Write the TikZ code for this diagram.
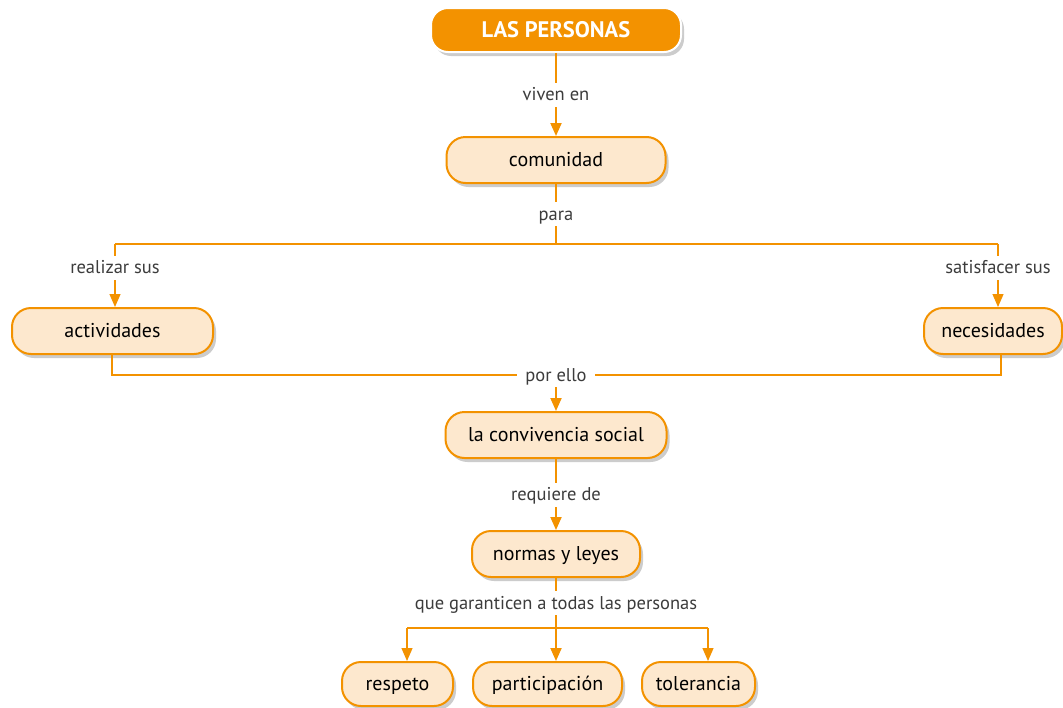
\documentclass[tikz,border=0pt]{standalone}
\usepackage{fontspec}
\setmainfont{PT Sans}
\usetikzlibrary{arrows.meta,shadows}
\definecolor{org}{HTML}{F39200}
\definecolor{peach}{HTML}{FDE8CE}
\definecolor{lbl}{HTML}{3C3C3C}
\tikzset{
  box/.style={rounded corners=19pt, draw=org, line width=2pt, fill=peach, minimum height=46pt,
    inner sep=0pt, text height=15pt, text depth=2pt, font=\fontsize{20}{22}\selectfont, text=black,
    drop shadow={opacity=0.4, shadow xshift=3pt, shadow yshift=-4pt}},
  topbox/.style={rounded corners=17pt, draw=white, line width=2pt, fill=org, minimum height=44pt,
    inner sep=0pt, text height=16pt, text depth=1pt, font=\fontsize{22.5}{24}\selectfont\bfseries, text=white,
    drop shadow={opacity=0.4, shadow xshift=3pt, shadow yshift=-4pt}},
  conn/.style={draw=org, line width=1.2pt},
  thick conn/.style={draw=org, line width=2pt},
  arr/.style={-{Triangle[width=11pt,length=13pt]}},
  lab/.style={fill=white, text=lbl, font=\fontsize{18.5}{20}\selectfont, inner sep=4pt,
    text height=14pt, text depth=2pt}
}
\begin{document}
\begin{tikzpicture}[x=1pt,y=-1pt]
\fill[white] (0,0) rectangle (1063,707);
\useasboundingbox (0,0) rectangle (1063,707);

\node[topbox, minimum width=250pt] (p) at (556,30) {LAS PERSONAS};
\node[box, minimum width=219pt] (c) at (556,160) {comunidad};
\node[box, minimum width=201pt] (a) at (112.5,331) {actividades};
\node[box, minimum width=138pt] (n) at (993,331) {necesidades};
\node[box, minimum width=221pt] (cs) at (556,435) {la convivencia social};
\node[box, minimum width=168pt] (nl) at (556,554) {normas y leyes};
\node[box, minimum width=111pt, minimum height=44pt] (r) at (397.5,684) {respeto};
\node[box, minimum width=149pt, minimum height=44pt] (pa) at (547.5,684) {participación};
\node[box, minimum width=113pt, minimum height=44pt] (t) at (698.5,684) {tolerancia};

% coordinates
\coordinate (bm) at (556,244);
\coordinate (b1) at (115,244);
\coordinate (b2) at (998,244);
\coordinate (j1) at (112,375);
\coordinate (j2) at (1001,375);
\coordinate (jm) at (556,375);
\coordinate (k1) at (407,628);
\coordinate (k2) at (708,628);
\coordinate (km) at (556,628);

\draw[thick conn, arr] (p) -- node[lab]{viven en} (c);
\draw[thick conn] (c.south) -- node[lab, pos=0.5]{para} (bm);
\draw[conn] (b1) -- (b2);
\draw[conn, arr] (b1) -- node[lab, pos=0.38]{realizar sus} (b1 |- a.north);
\draw[conn, arr] (b2) -- node[lab, pos=0.38]{satisfacer sus} (b2 |- n.north);

\draw[conn] (a.south -| j1) -- (j1) -- (j2) -- (j2 |- n.south);
\node[lab, inner xsep=8pt] (pe) at (jm) {por ello};
\draw[thick conn, arr] (pe.south) -- (cs.north);

\draw[thick conn, arr] (cs) -- node[lab]{requiere de} (nl);
\draw[thick conn] (nl.south) -- node[lab]{que garanticen a todas las personas} (km);
\draw[conn] (k1) -- (k2);
\draw[conn, arr] (k1) -- (k1 |- r.north);
\draw[thick conn, arr] (km) -- (km |- pa.north);
\draw[conn, arr] (k2) -- (k2 |- t.north);
\end{tikzpicture}
\end{document}
